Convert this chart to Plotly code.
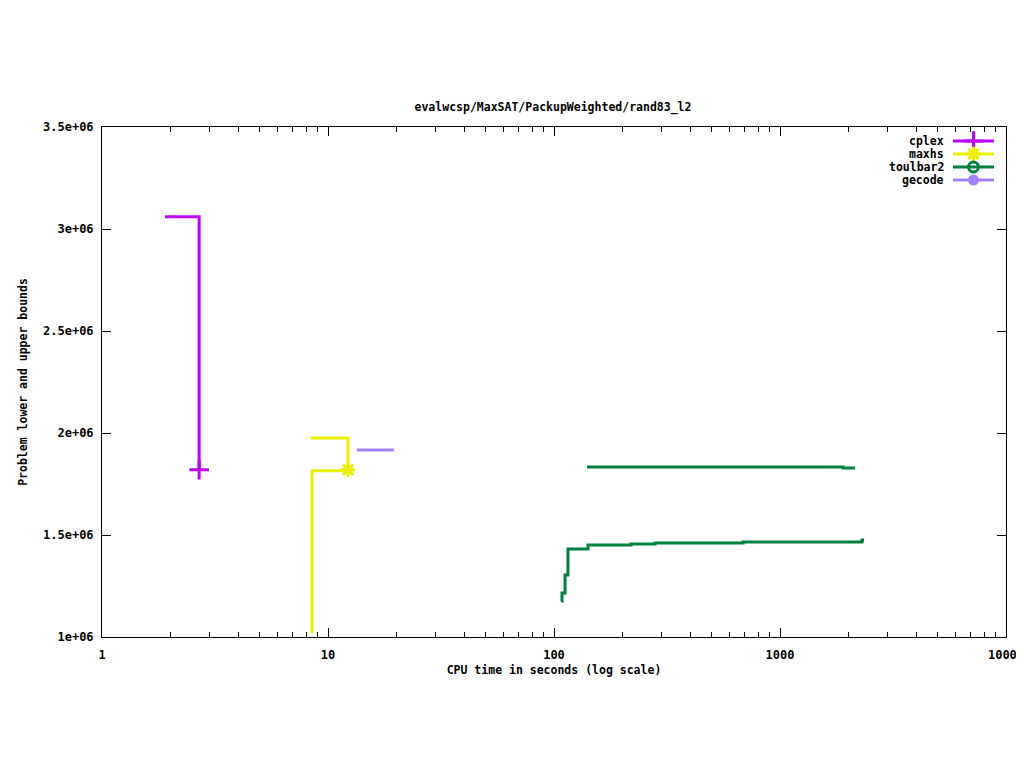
import plotly.graph_objects as go

# ---------------- data ----------------
title_text = "evalwcsp/MaxSAT/PackupWeighted/rand83_l2"
series_names = ["cplex", "maxhs", "toulbar2", "gecode"]
series_colors = ["#c000ff", "#eeee00", "#007f3f", "#a080ff"]

cplex_ub_x = [1.90, 2.69]
cplex_ub_y = [3.06e6, 1.82e6]
cplex_opt_x = [2.69]
cplex_opt_y = [1.82e6]

maxhs_ub_x = [8.41, 12.26]
maxhs_ub_y = [1.975e6, 1.82e6]
maxhs_lb_x = [8.5, 8.5, 12.26]
maxhs_lb_y = [1.02e6, 1.815e6, 1.815e6]
maxhs_opt_x = [12.26]
maxhs_opt_y = [1.82e6]

toulbar2_ub_x = [140, 1900, 2148]
toulbar2_ub_y = [1.833e6, 1.828e6, 1.828e6]
toulbar2_lb_x = [107.4, 108.5, 111.9, 115.3, 141.4, 219.1, 279.8, 686, 2306, 2353]
toulbar2_lb_y = [1.176e6, 1.216e6, 1.304e6, 1.431e6, 1.451e6, 1.456e6, 1.461e6,
                 1.466e6, 1.475e6, 1.475e6]

gecode_ub_x = [13.4, 19.6]
gecode_ub_y = [1.917e6, 1.917e6]

x_tickvals = [1, 10, 100, 1000, 10000]
x_ticktext = ["1", "10", "100", "1000", "10000"]
y_tickvals = [1.0e6, 1.5e6, 2.0e6, 2.5e6, 3.0e6, 3.5e6]
y_ticktext = ["1e+06", "1.5e+06", "2e+06", "2.5e+06", "3e+06", "3.5e+06"]
x_minor = [m * 10 ** d for d in range(4) for m in range(2, 10)]

legend_symbols = ["cross-thin", "asterisk-open", "circle-open", "circle"]

# ---------------- figure ----------------
FONT = "DejaVu Sans Mono"
fig = go.Figure()
LW = 3

def step(x, y, color, name):
    fig.add_trace(go.Scatter(x=x, y=y, mode="lines", line=dict(color=color, width=LW, shape="hv"),
                             name=name, showlegend=False, hoverinfo="skip"))

c = dict(zip(series_names, series_colors))
step(cplex_ub_x, cplex_ub_y, c["cplex"], "cplex")
step(maxhs_ub_x, maxhs_ub_y, c["maxhs"], "maxhs")
step(maxhs_lb_x, maxhs_lb_y, c["maxhs"], "maxhs")
step(toulbar2_ub_x, toulbar2_ub_y, c["toulbar2"], "toulbar2")
step(toulbar2_lb_x, toulbar2_lb_y, c["toulbar2"], "toulbar2")
step(gecode_ub_x, gecode_ub_y, c["gecode"], "gecode")

fig.add_trace(go.Scatter(x=cplex_opt_x, y=cplex_opt_y, mode="markers", showlegend=False,
                         marker=dict(symbol="cross-thin", size=14, color=c["cplex"],
                                     line=dict(color=c["cplex"], width=3))))
fig.add_trace(go.Scatter(x=maxhs_opt_x, y=maxhs_opt_y, mode="markers", showlegend=False,
                         marker=dict(symbol="asterisk-open", size=12, color=c["maxhs"],
                                     line=dict(color=c["maxhs"], width=3))))

# page body has an 8px margin: lay the figure out in page pixels minus 8
OFF = 8
W, H = 1024 - OFF, 768 - OFF
L, R, T, B = 102 - OFF, 1006 - OFF, 127 - OFF, 637 - OFF
PW, PH = R - L, B - T

# ---------------- gnuplot-style key (text right, sample left) ----------------
row_px = [141, 154, 167, 180]
for name, col, sym, ry in zip(series_names, series_colors, legend_symbols, row_px):
    yk = (B - (ry - OFF)) / PH
    x0 = (953 - OFF - L) / PW
    x1 = (994 - OFF - L) / PW
    fig.add_trace(go.Scatter(x=[x0, x1], y=[yk, yk], xaxis="x2", yaxis="y2", mode="lines",
                             line=dict(color=col, width=LW), showlegend=False, hoverinfo="skip"))
    if sym == "circle":
        mk = dict(symbol="circle", size=11, color=col)
    elif sym == "circle-open":
        mk = dict(symbol="circle-open", size=10, color=col, line=dict(color=col, width=3))
    elif sym == "cross-thin":
        mk = dict(symbol="cross-thin", size=14, color=col, line=dict(color=col, width=3))
    else:
        mk = dict(symbol="asterisk-open", size=12, color=col, line=dict(color=col, width=3))
    fig.add_trace(go.Scatter(x=[(x0 + x1) / 2], y=[yk], xaxis="x2", yaxis="y2", mode="markers",
                             marker=mk, showlegend=False, hoverinfo="skip"))
    fig.add_annotation(x=(946 - OFF - L) / PW, y=yk, xref="paper", yref="paper", text=name,
                       showarrow=False, xanchor="right", yanchor="middle",
                       font=dict(family=FONT, size=11.5, color="black", weight="bold"))

axis_font = dict(family=FONT, size=12, color="black", weight="bold")
lab_font = dict(family=FONT, size=11.5, color="black", weight="bold")
fig.update_layout(
    width=W, height=H,
    margin=dict(l=L, r=W - R, t=T, b=H - B, autoexpand=False),
    paper_bgcolor="white", plot_bgcolor="white",
    showlegend=False,
    title=dict(text=title_text, x=(553 - OFF) / W, xanchor="center", y=1 - (107 - OFF) / H,
               yanchor="middle", xref="container", yref="container", font=lab_font),
    xaxis=dict(type="log", range=[0, 4], tickvals=x_tickvals, ticktext=x_ticktext,
               ticks="inside", ticklen=9, tickwidth=1, tickcolor="black",
               showline=True, linecolor="black", linewidth=1, mirror="allticks",
               showgrid=False, zeroline=False, tickfont=axis_font, automargin=False,
               ticklabeloverflow="allow", ticklabelstandoff=7,
               minor=dict(tickvals=x_minor, ticks="inside", ticklen=5, tickcolor="black", showgrid=False),
               title=dict(text="CPU time in seconds (log scale)", font=lab_font, standoff=4)),
    yaxis=dict(range=[1.0e6, 3.5e6], tickvals=y_tickvals, ticktext=y_ticktext,
               ticks="inside", ticklen=9, tickwidth=1, tickcolor="black",
               showline=True, linecolor="black", linewidth=1, mirror="allticks",
               showgrid=False, zeroline=False, tickfont=axis_font, automargin=False,
               ticklabelstandoff=5,
               title=dict(text="Problem lower and upper bounds", font=lab_font, standoff=12)),
    xaxis2=dict(overlaying="x", range=[0, 1], visible=False, domain=[0, 1]),
    yaxis2=dict(overlaying="y", range=[0, 1], visible=False, domain=[0, 1]),
)

fig.write_html("out.html")
